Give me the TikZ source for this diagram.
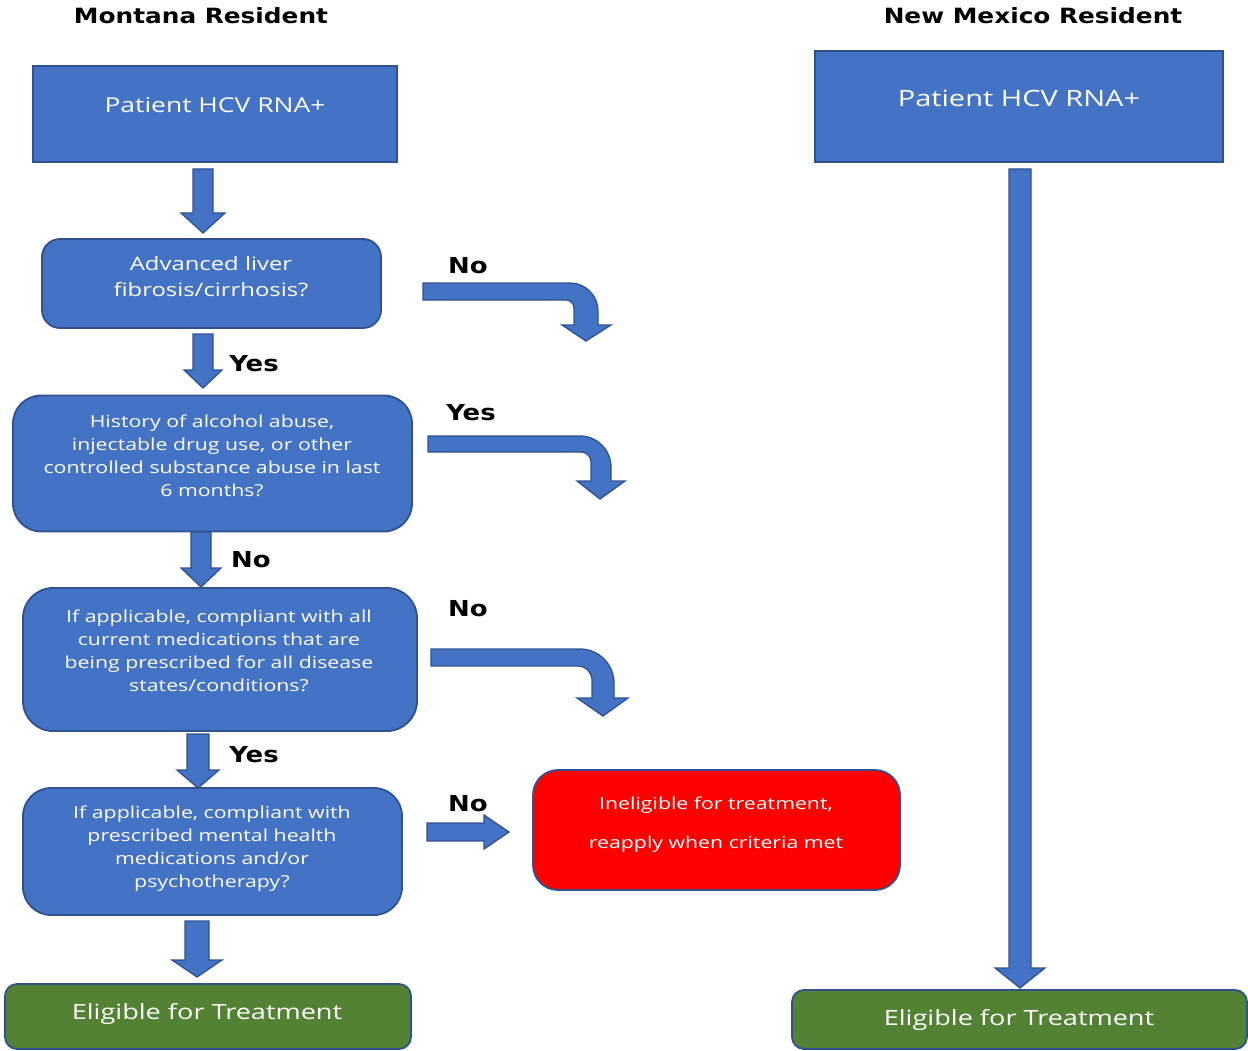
\documentclass[tikz,border=0pt]{standalone}
\usepackage{fontspec}
\setmainfont{Open Sans}[FakeStretch=1.29]
\newfontfamily\lblfont{DejaVu Sans}[FakeStretch=1.18]
\definecolor{boxblue}{HTML}{4472C4}
\definecolor{edgeblue}{HTML}{2F528F}
\definecolor{okgreen}{HTML}{548235}
\definecolor{badred}{HTML}{FF0000}
\newcommand\blkdown[6]{%
  \draw[arrowbody] (#1-#4,#2) -- (#1+#4,#2) -- (#1+#4,#3-#6) -- (#1+#5,#3-#6) -- (#1,#3) -- (#1-#5,#3-#6) -- (#1-#4,#3-#6) -- cycle;}
\begin{document}
\begin{tikzpicture}[x=1pt,y=-1pt,
  box/.style={draw=edgeblue,line width=1.8pt,fill=boxblue,inner sep=0pt},
  wtxt/.style={text=white,align=center,inner sep=0pt},
  arrowbody/.style={draw=edgeblue,line width=1.3pt,fill=boxblue,line join=miter},
  lbl/.style={font=\lblfont\bfseries\fontsize{22}{26}\selectfont,inner sep=0pt},
  hdr/.style={font=\lblfont\bfseries\fontsize{21}{26}\selectfont,inner sep=0pt}]
\useasboundingbox (0,0) rectangle (1248,1051);
% headers
\node[hdr] (hm) at (201,16) {Montana Resident};
\node[hdr] (hn) at (1033,16) {New Mexico Resident};
% boxes (Montana)
\node[box,minimum width=364pt,minimum height=96pt] (b1) at (215,114) {};
\node[wtxt,font=\fontsize{20.5}{24}\selectfont] (b1t) at (215,105) {Patient HCV RNA+};
\node[box,rounded corners=18pt,minimum width=339pt,minimum height=89pt] (b2) at (211.5,283.5) {};
\node[wtxt,font=\fontsize{18.5}{26}\selectfont] (b2t) at (211,277) {Advanced liver\\fibrosis/cirrhosis?};
\node[box,rounded corners=28pt,minimum width=399pt,minimum height=136pt] (b3) at (212.5,463.5) {};
\node[wtxt,font=\fontsize{16.5}{23}\selectfont] (b3t) at (212,456) {History of alcohol abuse,\\injectable drug use, or other\\controlled substance abuse in last\\6 months?};
\node[box,rounded corners=30pt,minimum width=394pt,minimum height=143pt] (b4) at (220,659.5) {};
\node[wtxt,font=\fontsize{16.5}{23}\selectfont] (b4t) at (219,651) {If applicable, compliant with all\\current medications that are\\being prescribed for all disease\\states/conditions?};
\node[box,rounded corners=28pt,minimum width=379pt,minimum height=127pt] (b5) at (212.5,851.5) {};
\node[wtxt,font=\fontsize{16.5}{23}\selectfont] (b5t) at (212,849) {If applicable, compliant with\\prescribed mental health\\medications and/or\\psychotherapy?};
\node[box,fill=badred,rounded corners=25pt,minimum width=367pt,minimum height=120pt] (red) at (716.5,830) {};
\node[wtxt,font=\fontsize{16.5}{39}\selectfont] (redt) at (716,825) {Ineligible for treatment,\\reapply when criteria met};
\node[box,fill=okgreen,rounded corners=12pt,minimum width=406pt,minimum height=65pt] (g1) at (208,1016.5) {};
\node[wtxt,font=\fontsize{21}{26}\selectfont] (g1t) at (207,1014) {Eligible for Treatment};
% New Mexico
\node[box,minimum width=408pt,minimum height=111pt] (n1) at (1019,106.5) {};
\node[wtxt,font=\fontsize{22.5}{26}\selectfont] (n1t) at (1019,98) {Patient HCV RNA+};
\node[box,fill=okgreen,rounded corners=12pt,minimum width=455pt,minimum height=59pt] (g2) at (1019.5,1019.5) {};
\node[wtxt,font=\fontsize{21}{26}\selectfont] (g2t) at (1019,1020) {Eligible for Treatment};
% down block arrows
\blkdown{203}{169}{233}{10}{22}{20}
\blkdown{203}{334}{388}{10}{19}{18}
\blkdown{201}{532}{587}{10}{20}{19}
\blkdown{198}{734}{788}{11}{21}{18}
\blkdown{197}{921}{977}{12}{25}{17}
\blkdown{1020}{169}{988}{11}{25}{20}
% right arrow to ineligible
\draw[arrowbody] (427,823) -- (484,823) -- (484,815) -- (509,832) -- (484,849) -- (484,841) -- (427,841) -- cycle;
% bent arrows
\draw[arrowbody] (423,283) -- (570,283) .. controls (585.4,283) and (598,295.6) .. (598,311) -- (598,325) -- (611,325) -- (586,341) -- (562,325) -- (574,325) -- (574,308) .. controls (574,303.6) and (570.4,300) .. (566,300) -- (423,300) -- cycle;
\draw[arrowbody] (428,436) -- (580,436) .. controls (597,436) and (611,450) .. (611,467) -- (611,481) -- (625,481) -- (600,499) -- (577,481) -- (591,481) -- (591,462) .. controls (591,456.5) and (586.5,452) .. (581,452) -- (428,452) -- cycle;
\draw[arrowbody] (431,649) -- (580,649) .. controls (598.7,649) and (614,664.3) .. (614,683) -- (614,698) -- (628,698) -- (603,716) -- (577,698) -- (592,698) -- (592,680) .. controls (592,672.3) and (585.7,666) .. (578,666) -- (431,666) -- cycle;
% labels
\node[lbl] (l1) at (468,266) {No};
\node[lbl] (l2) at (254,364) {Yes};
\node[lbl] (l3) at (471,413) {Yes};
\node[lbl] (l4) at (251,560) {No};
\node[lbl] (l5) at (468,609) {No};
\node[lbl] (l6) at (254,755) {Yes};
\node[lbl] (l7) at (468,804) {No};
\end{tikzpicture}
\end{document}
